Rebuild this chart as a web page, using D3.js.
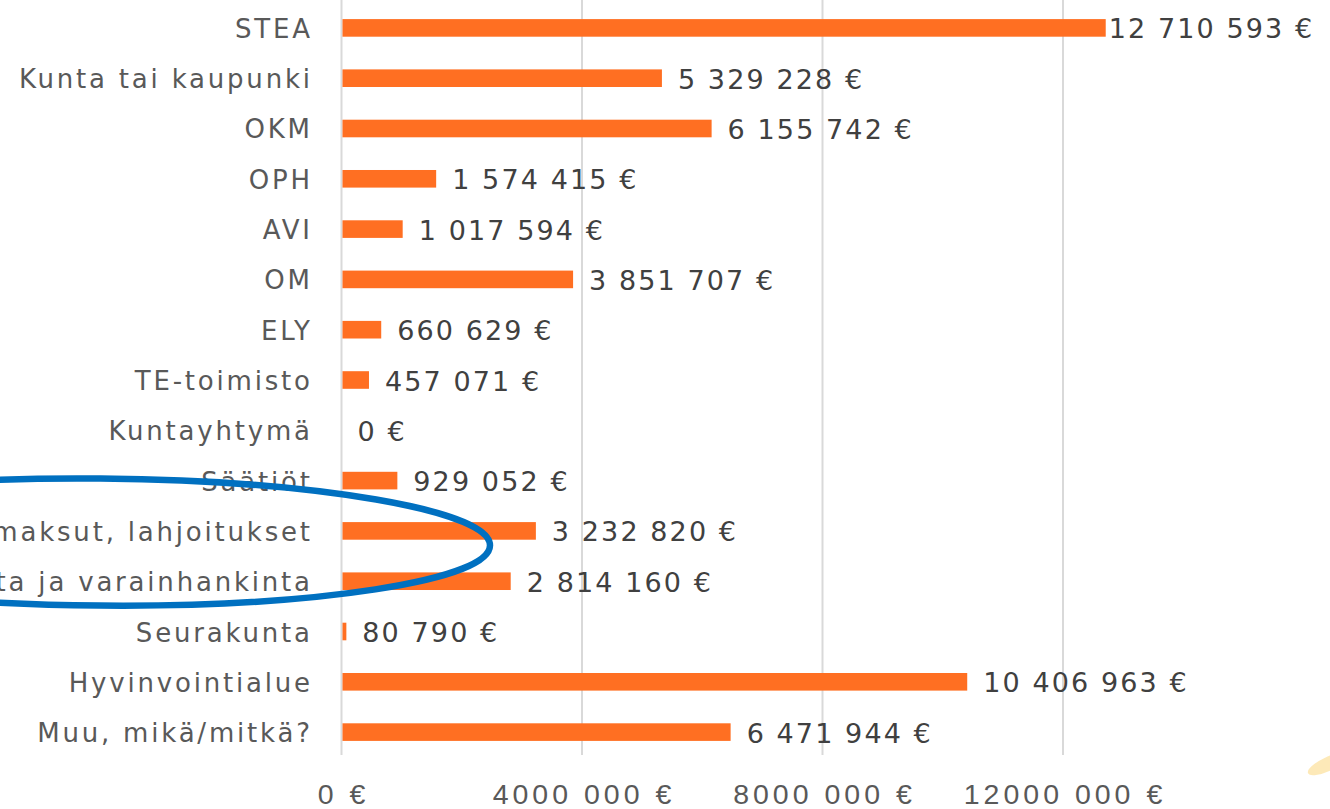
<!DOCTYPE html>
<html><head><meta charset="utf-8">
<script src="https://cdn.jsdelivr.net/npm/d3@7"></script>
<style>
html,body{margin:0;padding:0;background:#fff;overflow:hidden;}
svg{display:block;}
</style></head>
<body>
<svg id="c" width="1330" height="809"></svg>
<script>
const categories = ["STEA","Kunta tai kaupunki","OKM","OPH","AVI","OM","ELY","TE-toimisto","Kuntayhtymä","Säätiöt","Jäsenmaksut, lahjoitukset","Oma toiminta ja varainhankinta","Seurakunta","Hyvinvointialue","Muu, mikä/mitkä?"];
const values = [12710593,5329228,6155742,1574415,1017594,3851707,660629,457071,0,929052,3232820,2814160,80790,10406963,6471944];
const valueLabels = ["12 710 593 €","5 329 228 €","6 155 742 €","1 574 415 €","1 017 594 €","3 851 707 €","660 629 €","457 071 €","0 €","929 052 €","3 232 820 €","2 814 160 €","80 790 €","10 406 963 €","6 471 944 €"];
const tickValues = [0,4000000,8000000,12000000];
const tickLabels = ["0 €","4000 000 €","8000 000 €","12000 000 €"];
const circled = ["Jäsenmaksut, lahjoitukset","Oma toiminta ja varainhankinta"];

const svg = d3.select("#c");
const x = d3.scaleLinear().domain([0,12000000]).range([341.5,1063]);
const y = d3.scaleBand().domain(categories).range([3,757]).paddingInner(0.65).paddingOuter(0.32);

// gridlines
svg.append("g").selectAll("line").data(tickValues).join("line")
  .attr("x1",d=>x(d)).attr("x2",d=>x(d)).attr("y1",0).attr("y2",755)
  .attr("stroke","#d9d9d9").attr("stroke-width",2);

// bars
svg.append("g").selectAll("rect").data(values).join("rect")
  .attr("x",x(0)+1).attr("y",(d,i)=>y(categories[i]))
  .attr("width",d=>Math.max(0,x(d)-x(0)-1)).attr("height",y.bandwidth())
  .attr("fill","#FF6F22");

// category labels
svg.append("g").selectAll("text").data(categories).join("text")
  .attr("x",310+2.8).attr("y",d=>y(d)+y.bandwidth()/2+1)
  .attr("text-anchor","end").attr("dominant-baseline","central")
  .attr("font-family","'DejaVu Sans', sans-serif").attr("font-size",26)
  .attr("letter-spacing",2.8)
  .attr("fill","#595959").text(d=>d);

// value labels
const vl = svg.append("g").selectAll("text").data(values).join("text")
  .attr("y",(d,i)=>y(categories[i])+y.bandwidth()/2+1)
  .attr("dominant-baseline","central")
  .attr("font-family","'DejaVu Sans', sans-serif").attr("font-size",27)
  .attr("letter-spacing",2.1)
  .attr("fill","#404040").text((d,i)=>valueLabels[i]);
vl.each(function(d){
  const w = this.getComputedTextLength();
  const px = Math.min(x(d)+16, 1304 - w);
  d3.select(this).attr("x", Math.max(px, x(d)+3));
});

// axis tick labels
svg.append("g").selectAll("text").data(tickValues).join("text")
  .attr("x",d=>x(d)+2).attr("y",793.5).attr("text-anchor","middle").attr("dominant-baseline","central")
  .attr("font-family","'Liberation Sans', Arial, sans-serif")
  .attr("font-size",28.5).attr("letter-spacing",4).attr("fill","#595959").text((d,i)=>tickLabels[i]);

// annotation ellipse around circled categories
const cy = (y(circled[0]) + y(circled[1]) + y.bandwidth())/2 - 14;
svg.append("ellipse")
  .attr("cx",100).attr("cy",cy).attr("rx",390).attr("ry",63.5)
  .attr("transform",`rotate(0.5 100 ${cy})`)
  .attr("fill","none").attr("stroke","#0070C0").attr("stroke-width",6.5);

// faint decoration bottom right
svg.append("ellipse").attr("cx",1328).attr("cy",764).attr("rx",22).attr("ry",7)
  .attr("transform","rotate(-25 1328 764)").attr("fill","#FDE3A6").attr("opacity",0.8);
</script>
</body></html>
